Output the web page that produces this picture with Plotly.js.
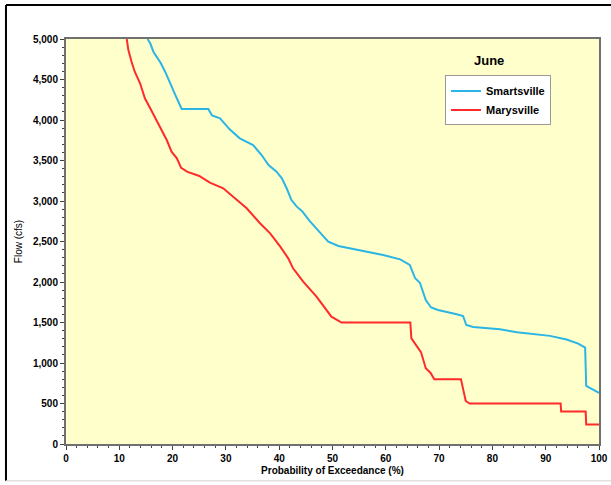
<!DOCTYPE html>
<html>
<head>
<meta charset="utf-8">
<script src="https://cdn.plot.ly/plotly-3.0.1.min.js"></script>
<style>
html,body{margin:0;padding:0;background:#fff;}
#chart{width:611px;height:485px;}
</style>
</head>
<body>
<div id="chart"></div>
<script>
// Smartsville (blue) exceedance curve
const smartsvilleP = [15.3, 15.8, 16.4, 17.8, 18.6, 19.5, 20.5, 21.7, 26.7, 27.4, 28.9, 30.7, 32.6, 35.1, 36.7, 38.0, 39.5, 40.5, 41.4, 42.3, 43.3, 44.3, 45.7, 47.5, 49.2, 51.1, 53.3, 56.4, 59.5, 62.7, 64.5, 65.5, 66.4, 67.5, 68.5, 69.8, 71.4, 73.3, 74.5, 75.1, 76.4, 79.5, 81.4, 84.6, 87.7, 90.8, 93.9, 96.1, 97.4, 97.6, 100];
const smartsvilleFlow = [5000, 4947, 4843, 4700, 4596, 4453, 4309, 4136, 4136, 4055, 4021, 3885, 3774, 3691, 3568, 3444, 3362, 3280, 3157, 3012, 2930, 2875, 2755, 2621, 2498, 2444, 2416, 2374, 2333, 2280, 2210, 2046, 1991, 1778, 1685, 1654, 1633, 1601, 1580, 1469, 1445, 1428, 1416, 1380, 1354, 1335, 1290, 1240, 1189, 716, 630];

// Marysville (red) exceedance curve
const marysvilleP = [11.4, 11.7, 12.3, 12.9, 13.9, 14.8, 15.8, 17.0, 18.0, 18.9, 19.8, 20.8, 21.6, 22.7, 25.0, 27.0, 29.5, 31.7, 33.9, 36.4, 38.3, 40.2, 41.7, 42.6, 44.5, 47.0, 49.8, 51.7, 64.6, 64.8, 65.8, 66.6, 67.5, 68.4, 69.1, 74.1, 75.0, 75.7, 92.8, 92.9, 97.5, 97.6, 100];
const marysvilleFlow = [5000, 4864, 4720, 4596, 4453, 4268, 4144, 4000, 3877, 3753, 3609, 3527, 3410, 3362, 3309, 3226, 3157, 3033, 2910, 2725, 2601, 2436, 2292, 2169, 2004, 1819, 1572, 1500, 1500, 1305, 1201, 1135, 935, 877, 800, 800, 531, 500, 500, 400, 400, 240, 240];

const seriesNames = ["Smartsville", "Marysville"];
const chartTitle = "June";
const xTitle = "Probability of Exceedance (%)";
const yTitle = "Flow (cfs)";

const font = "Arial, 'Liberation Sans', sans-serif";

const traces = [
  {x: smartsvilleP, y: smartsvilleFlow, name: seriesNames[0], mode: "lines", type: "scatter",
   line: {color: "#2BB5E6", width: 2}},
  {x: marysvilleP, y: marysvilleFlow, name: seriesNames[1], mode: "lines", type: "scatter",
   line: {color: "#FF2B2B", width: 2}}
];

const layout = {
  width: 611, height: 485,
  margin: {l: 66, r: 12, t: 39, b: 41, pad: 0},
  paper_bgcolor: "#ffffff",
  plot_bgcolor: "#FFFFCC",
  font: {family: font, color: "#000"},
  showlegend: true,
  legend: {
    x: 0.711, y: 0.91, xanchor: "left", yanchor: "top",
    bgcolor: "#ffffff", bordercolor: "#9a9a9a", borderwidth: 1,
    font: {family: font, size: 11, color: "#000", weight: "bold"},
    itemwidth: 30, tracegroupgap: 0
  },
  xaxis: {
    range: [0, 100], dtick: 10, tick0: 0,
    showgrid: false, zeroline: false,
    showline: true, mirror: true, linecolor: "#707070", linewidth: 2,
    ticks: "outside", ticklen: 4, tickcolor: "#404040", tickwidth: 1,
    minor: {dtick: 2, ticks: "outside", ticklen: 2, tickcolor: "#404040", showgrid: false},
    tickfont: {family: font, size: 10, color: "#000", weight: "bold"},
    title: {text: xTitle, font: {family: font, size: 10, color: "#000", weight: "bold"}, standoff: 4},
    fixedrange: true
  },
  yaxis: {
    range: [0, 5000], dtick: 500, tick0: 0, tickformat: ",d",
    showgrid: false, zeroline: false,
    showline: true, mirror: true, linecolor: "#707070", linewidth: 2,
    ticks: "outside", ticklen: 4, tickcolor: "#404040", tickwidth: 1,
    minor: {dtick: 100, ticks: "outside", ticklen: 2, tickcolor: "#404040", showgrid: false},
    tickfont: {family: font, size: 10, color: "#000", weight: "bold"},
    title: {text: yTitle, font: {family: font, size: 10, color: "#000"}, standoff: 8},
    fixedrange: true
  },
  annotations: [
    {text: chartTitle, xref: "paper", yref: "paper", x: 0.794, y: 0.948,
     xanchor: "center", yanchor: "middle", showarrow: false,
     font: {family: font, size: 13, color: "#000", weight: "bold"}}
  ],
  shapes: [
    {type: "line", xref: "paper", yref: "paper", x0: -0.1126, x1: -0.1126, y0: -0.091, y1: 1.084,
     line: {color: "#000", width: 2}},
    {type: "line", xref: "paper", yref: "paper", x0: -0.1126, x1: 1.03, y0: 1.084, y1: 1.084,
     line: {color: "#000", width: 2}},
    {type: "line", xref: "paper", yref: "paper", x0: -0.1126, x1: 1.03, y0: -0.091, y1: -0.091,
     line: {color: "#d0d0d0", width: 1}}
  ]
};

Plotly.newPlot("chart", traces, layout, {displayModeBar: false, staticPlot: true});
</script>
</body>
</html>
